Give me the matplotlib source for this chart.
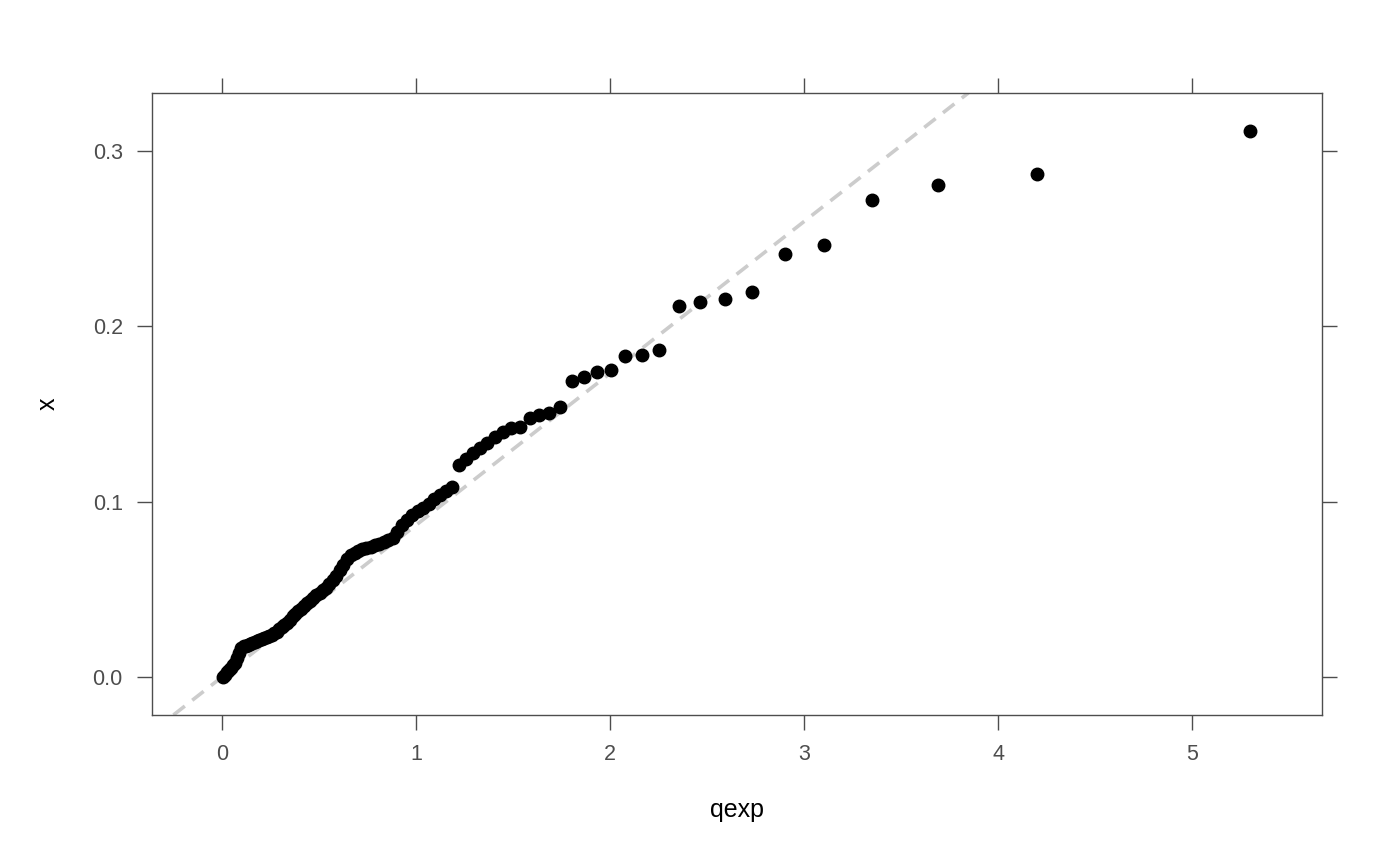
import numpy as np
import matplotlib
matplotlib.use("Agg")
import matplotlib.pyplot as plt

plt.rcParams["font.family"] = ["Liberation Sans", "DejaVu Sans"]

# sorted sample (n = 100)
x_sorted = [
    0.0000, 0.0013, 0.0026, 0.0039, 0.0053, 0.0067, 0.0080, 0.0107, 0.0135, 0.0163,
    0.0175, 0.0179, 0.0184, 0.0189, 0.0194, 0.0199, 0.0204, 0.0209, 0.0215, 0.0221,
    0.0226, 0.0233, 0.0238, 0.0248, 0.0259, 0.0271, 0.0282, 0.0294, 0.0310, 0.0327,
    0.0345, 0.0361, 0.0374, 0.0388, 0.0404, 0.0420, 0.0435, 0.0451, 0.0465, 0.0480,
    0.0494, 0.0509, 0.0530, 0.0553, 0.0576, 0.0609, 0.0641, 0.0671, 0.0698, 0.0709,
    0.0720, 0.0729, 0.0735, 0.0742, 0.0750, 0.0758, 0.0769, 0.0780, 0.0792, 0.0829,
    0.0864, 0.0897, 0.0922, 0.0945, 0.0966, 0.0988, 0.1013, 0.1038, 0.1060, 0.1081,
    0.1209, 0.1243, 0.1275, 0.1304, 0.1335, 0.1366, 0.1397, 0.1420, 0.1426, 0.1477,
    0.1494, 0.1506, 0.1540, 0.1688, 0.1711, 0.1740, 0.1751, 0.1831, 0.1837, 0.1865,
    0.2116, 0.2139, 0.2156, 0.2196, 0.2413, 0.2464, 0.2721, 0.2806, 0.2869, 0.3114,
]
line_slope = 0.0866
line_intercept = 0.0

xticks = [0, 1, 2, 3, 4, 5]
yticks = [0.0, 0.1, 0.2, 0.3]

# theoretical exponential quantiles at ppoints(n)
n = len(x_sorted)
p = (np.arange(1, n + 1) - 0.5) / n
qexp = -np.log(1 - p)

fig = plt.figure(figsize=(14, 8.66), dpi=100)
ax = fig.add_axes([0.1086, 0.1744, 0.9443 - 0.1086, 0.8926 - 0.1744])

ax.axline((0, line_intercept), slope=line_slope, color="#cccccc", lw=2.6,
          ls=(0, (4, 2.6)), zorder=1)
ax.plot(qexp, x_sorted, "o", color="black", ms=9, zorder=2)

ax.set_xlim(-0.361, 5.670)
ax.set_ylim(-0.0217, 0.3331)

edge = "#4d4d4d"
for s in ax.spines.values():
    s.set_color(edge)
    s.set_linewidth(1.0)

ax.set_xticks(xticks)
ax.set_xticklabels([str(t) for t in xticks])
ax.set_yticks(yticks)
ax.set_yticklabels(["%.1f" % t for t in yticks])
ax.tick_params(axis="both", which="both", direction="out", length=11, width=1.0,
               color=edge, labelcolor=edge, labelsize=15.5, pad=10,
               top=True, right=True, labeltop=False, labelright=False)

ax.set_xlabel("qexp", fontsize=18, labelpad=24)
ax.set_ylabel("x", fontsize=18, labelpad=24)

fig.savefig("out.png", dpi=100)
